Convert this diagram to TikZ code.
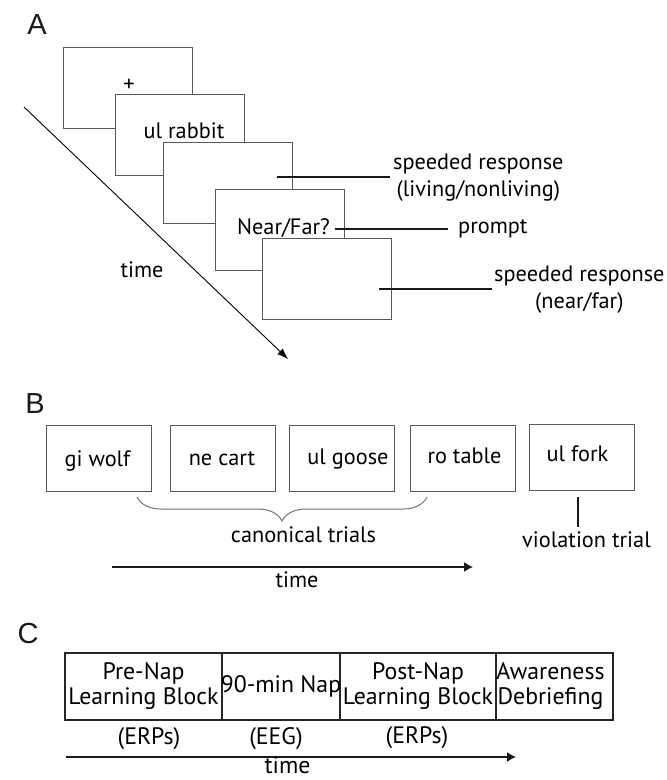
\documentclass[tikz,border=0pt]{standalone}
\usepackage{fontspec}
\setmainfont{PT Sans}
\newfontfamily\labelfont{Liberation Sans}
\usetikzlibrary{arrows.meta,decorations.pathreplacing}
\begin{document}
\begin{tikzpicture}[x=1pt,y=-1pt,
  panellabel/.style={font=\labelfont\fontsize{29}{32}\selectfont, inner sep=0, text=black!90},
  txt/.style={font=\fontsize{22.3}{27}\selectfont, inner sep=0, align=center, text=black},
  ctxt/.style={font=\fontsize{23.8}{25}\selectfont, inner sep=0, align=center, text=black},
  screen/.style={draw=black!65, line width=1pt, fill=white, minimum width=129pt, minimum height=81pt, inner sep=0},
  trial/.style={draw=black!65, line width=1pt, minimum width=105pt, minimum height=66pt, inner sep=0},
  cell/.style={draw=black!85, line width=1.5pt, minimum height=67pt, inner sep=0},
  conn/.style={line width=1.4pt, draw=black!90},
  timearrow/.style={line width=1.4pt, draw=black!90, -{Latex[length=9pt,width=10pt]}}
]
\useasboundingbox[fill=white] (0,0) rectangle (667,780);

% ---------- Panel A ----------
\node[panellabel] (labA) at (37,25) {A};
\node[screen] (s1) at (127.5,87.5) {};
\node[txt] (tplus) at (129,85) {+};
\node[screen] (s2) at (180,134.5) {};
\node[txt, anchor=base] (trab) at (184,138) {ul rabbit};
\node[screen] (s3) at (227.5,182.5) {};
\node[screen] (s4) at (279.5,229.5) {};
\node[txt, anchor=base] (tnf) at (283.5,234) {Near/Far?};
\node[screen] (s5) at (326.5,279) {};

\coordinate (c1) at (277,177);
\node[txt, anchor=west, inner xsep=3pt] (resp1) at (390,178) {speeded response\\(living/nonliving)};
\draw[conn] (c1) -- (resp1.west |- c1);

\coordinate (c2) at (335,229);
\node[txt, anchor=west, inner xsep=10pt] (prompt) at (448,229) {prompt};
\draw[conn] (c2) -- (prompt.west);

\coordinate (c3) at (379,289);
\node[txt, anchor=west, inner xsep=2pt] (resp2) at (492,290) {speeded response\\(near/far)};
\draw[conn] (c3) -- (resp2.west |- c3);

\coordinate (t0) at (24,107);
\coordinate (t1) at (288,359);
\draw[line width=0.9pt, -{Latex[length=11pt,width=8pt]}] (t0) -- (t1);
\node[txt, anchor=base] (timeA) at (142,277) {time};

% ---------- Panel B ----------
\node[panellabel] (labB) at (35,404) {B};
\node[trial] (b1) at (98.5,458) {};
\node[trial] (b2) at (222.5,458) {};
\node[trial] (b3) at (341.5,458) {};
\node[trial] (b4) at (462.5,458) {};
\node[trial] (b5) at (582,457) {};
\node[txt, anchor=base] (tb1) at (97.5,466) {gi wolf};
\node[txt, anchor=base] (tb2) at (222,465) {ne cart};
\node[txt, anchor=base] (tb3) at (348,464) {ul goose};
\node[txt, anchor=base] (tb4) at (464.5,463) {ro table};
\node[txt, anchor=base] (tb5) at (577.5,461) {ul fork};

\coordinate (br1) at (137,497);
\coordinate (br2) at (427,497);
\draw[draw=black!55, line width=1pt, decorate, decoration={brace, mirror, amplitude=24pt}] (br1) -- (br2);
\node[txt, anchor=base] (canon) at (303.5,542) {canonical trials};

\coordinate (v1) at (578,497);
\coordinate (v2) at (578,527);
\draw[conn] (v1) -- (v2);
\node[txt, anchor=base] (viol) at (586.5,547) {violation trial};

\coordinate (ta) at (112,567);
\coordinate (tb) at (473,567);
\draw[timearrow] (ta) -- (tb);
\node[txt, anchor=base] (timeB) at (297,587) {time};

% ---------- Panel C ----------
\node[panellabel] (labC) at (28,634) {C};
\node[cell, minimum width=157pt] (pre) at (143.5,686.5) {};
\node[cell, minimum width=118pt] (nap) at (281,686.5) {};
\node[cell, minimum width=156pt] (post) at (418,686.5) {};
\node[cell, minimum width=117pt] (aware) at (554.5,686.5) {};
\node[ctxt] (tpre) at (pre.center) {Pre-Nap\\Learning Block};
\node[ctxt] (tnap) at (nap.center) {90-min Nap};
\node[ctxt] (tpost) at (post.center) {Post-Nap\\Learning Block};
\node[ctxt] (taware) at ([xshift=-4pt]aware.center) {Awareness\\Debriefing};

\node[ctxt, anchor=base] (erp1) at (149,744) {(ERPs)};
\node[ctxt, anchor=base] (eeg) at (276,744) {(EEG)};
\node[ctxt, anchor=base] (erp2) at (417,743) {(ERPs)};

\coordinate (tc0) at (66,757);
\coordinate (tc1) at (516,757);
\draw[timearrow] (tc0) -- (tc1);
\node[ctxt, anchor=base] (timeC) at (287.5,773) {time};
\end{tikzpicture}
\end{document}
